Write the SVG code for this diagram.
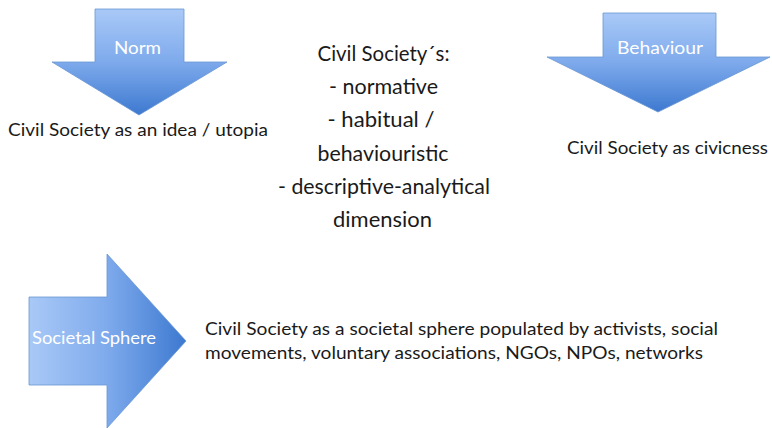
<svg xmlns="http://www.w3.org/2000/svg" width="772" height="428" viewBox="0 0 772 428">
  <defs>
    <!-- block arrow fills: light blue at the tail, deeper blue at the head -->
    <linearGradient id="fillDown" x1="0" y1="0" x2="0" y2="1">
      <stop offset="0" stop-color="#a9c9f7"/>
      <stop offset="0.5" stop-color="#7eaaec"/>
      <stop offset="1" stop-color="#3d79d0"/>
    </linearGradient>
    <linearGradient id="fillRight" x1="0" y1="0" x2="1" y2="0">
      <stop offset="0" stop-color="#a9c9f7"/>
      <stop offset="0.5" stop-color="#7eaaec"/>
      <stop offset="1" stop-color="#3d79d0"/>
    </linearGradient>
  </defs>
  <style>
    .arrow { stroke: #6b97d3; stroke-width: 0.8; stroke-linejoin: miter; }
    .label { font-family: Lato, "Liberation Sans", sans-serif; fill: #ffffff; font-size: 18px; }
    .body { font-family: Lato, "Liberation Sans", sans-serif; fill: #1a1a1a; font-size: 18px; }
    .center { font-family: Lato, "Liberation Sans", sans-serif; fill: #1a1a1a; font-size: 20.5px; text-anchor: middle; }
  </style>

  <rect width="772" height="428" fill="#ffffff"/>

  <!-- Norm: downward block arrow -->
  <g id="norm">
    <path class="arrow" fill="url(#fillDown)" d="M95 9 H184 V62 H227 L139 115 L52 62 H95 Z"/>
    <text class="label" x="137.5" y="54" text-anchor="middle" textLength="47" lengthAdjust="spacingAndGlyphs">Norm</text>
    <text class="body" x="8" y="136" textLength="260" lengthAdjust="spacingAndGlyphs">Civil Society as an idea / utopia</text>
  </g>

  <!-- Behaviour: downward block arrow -->
  <g id="behaviour">
    <path class="arrow" fill="url(#fillDown)" d="M603 13 H716 V57 H770 L658 112 L547 57 H603 Z"/>
    <text class="label" x="660" y="54" text-anchor="middle" textLength="86" lengthAdjust="spacingAndGlyphs">Behaviour</text>
    <text class="body" x="567" y="154" textLength="201" lengthAdjust="spacingAndGlyphs">Civil Society as civicness</text>
  </g>

  <!-- central list of dimensions -->
  <g id="dimensions">
    <text class="center" x="383.5" y="61" textLength="132" lengthAdjust="spacingAndGlyphs">Civil Society´s:</text>
    <text class="center" x="383.5" y="94" textLength="109" lengthAdjust="spacingAndGlyphs">- normative</text>
    <text class="center" x="381" y="127" textLength="107" lengthAdjust="spacingAndGlyphs">- habitual /</text>
    <text class="center" x="383" y="161" textLength="131" lengthAdjust="spacingAndGlyphs">behaviouristic</text>
    <text class="center" x="384" y="194" textLength="212" lengthAdjust="spacingAndGlyphs">- descriptive-analytical</text>
    <text class="center" x="382.5" y="227" textLength="99" lengthAdjust="spacingAndGlyphs">dimension</text>
  </g>

  <!-- Societal Sphere: rightward block arrow -->
  <g id="societal-sphere">
    <path class="arrow" fill="url(#fillRight)" d="M29 297 H107 V254 L186 341 L107 428 V385 H29 Z"/>
    <text class="label" x="94" y="344" text-anchor="middle" textLength="124" lengthAdjust="spacingAndGlyphs">Societal Sphere</text>
    <text class="body" x="205" y="335" textLength="513" lengthAdjust="spacingAndGlyphs">Civil Society as a societal sphere populated by activists, social</text>
    <text class="body" x="205" y="359" textLength="498" lengthAdjust="spacingAndGlyphs">movements, voluntary associations, NGOs, NPOs, networks</text>
  </g>
</svg>
